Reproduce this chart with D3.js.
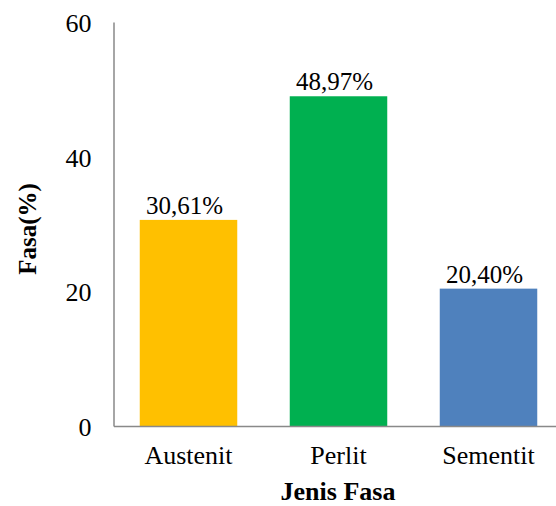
<!DOCTYPE html>
<html>
<head>
<meta charset="utf-8">
<script src="https://cdn.jsdelivr.net/npm/d3@7"></script>
<style>
  body { margin: 0; background: #fff; }
</style>
</head>
<body>
<div id="chart"></div>
<script>
// data
var categories = ["Austenit", "Perlit", "Sementit"];
var values = [30.61, 48.97, 20.40];
var labels = ["30,61%", "48,97%", "20,40%"];
var colors = ["#FFC000", "#00B050", "#4F81BD"];
var yTicks = [0, 20, 40, 60];

var width = 556, height = 506;
var serif = "'Liberation Serif', 'Times New Roman', Times, serif";

var svg = d3.select("#chart")
    .append("svg")
    .attr("width", width)
    .attr("height", height)
    .style("font-family", serif);

var x = d3.scaleBand()
    .domain(categories)
    .range([113.5, 563.5])
    .paddingInner(0.35)
    .paddingOuter(0.175);

var y = d3.scaleLinear()
    .domain([0, 60])
    .range([426, 22]);

// y axis: line and labels, no tick marks
var yAxis = svg.append("g")
    .attr("transform", "translate(113.5,0)")
    .call(d3.axisLeft(y).tickValues(yTicks).tickSize(0).tickPadding(22));
yAxis.attr("font-family", null).attr("font-size", null);
yAxis.select(".domain").attr("stroke", "#898989").attr("stroke-width", 1.5);
yAxis.selectAll("text")
    .style("font-family", serif)
    .style("font-size", "26px")
    .attr("fill", "#000")
    .attr("dy", "0.36em");

// bars
svg.selectAll(".bar")
    .data(values)
    .enter().append("rect")
    .attr("class", "bar")
    .attr("x", function(d, i) { return x(categories[i]); })
    .attr("y", function(d) { return y(d); })
    .attr("width", x.bandwidth())
    .attr("height", function(d) { return y(0) - y(d); })
    .attr("fill", function(d, i) { return colors[i]; });

// x axis
var xAxis = svg.append("g")
    .attr("transform", "translate(0,426)")
    .call(d3.axisBottom(x).tickSize(0).tickPadding(20));
xAxis.attr("font-family", null).attr("font-size", null);
xAxis.select(".domain").attr("stroke", "#898989").attr("stroke-width", 1.5);
xAxis.selectAll("text")
    .style("font-family", serif)
    .style("font-size", "26px")
    .attr("fill", "#000");

// value labels (sit a little left of the bar centre, as in the original)
svg.selectAll(".lbl")
    .data(values)
    .enter().append("text")
    .attr("class", "lbl")
    .attr("x", function(d, i) { return x(categories[i]) + x.bandwidth() / 2 - 4; })
    .attr("y", function(d) { return y(d) - 6; })
    .attr("text-anchor", "middle")
    .style("font-family", serif)
    .style("font-size", "25px")
    .text(function(d, i) { return labels[i]; });

// axis titles
svg.append("text")
    .attr("x", 338)
    .attr("y", 500)
    .attr("text-anchor", "middle")
    .style("font-family", serif)
    .style("font-size", "26px")
    .style("font-weight", "bold")
    .text("Jenis Fasa");

svg.append("text")
    .attr("transform", "translate(36,229) rotate(-90)")
    .attr("text-anchor", "middle")
    .style("font-family", serif)
    .style("font-size", "25px")
    .style("font-weight", "bold")
    .text("Fasa(%)");
</script>
</body>
</html>
